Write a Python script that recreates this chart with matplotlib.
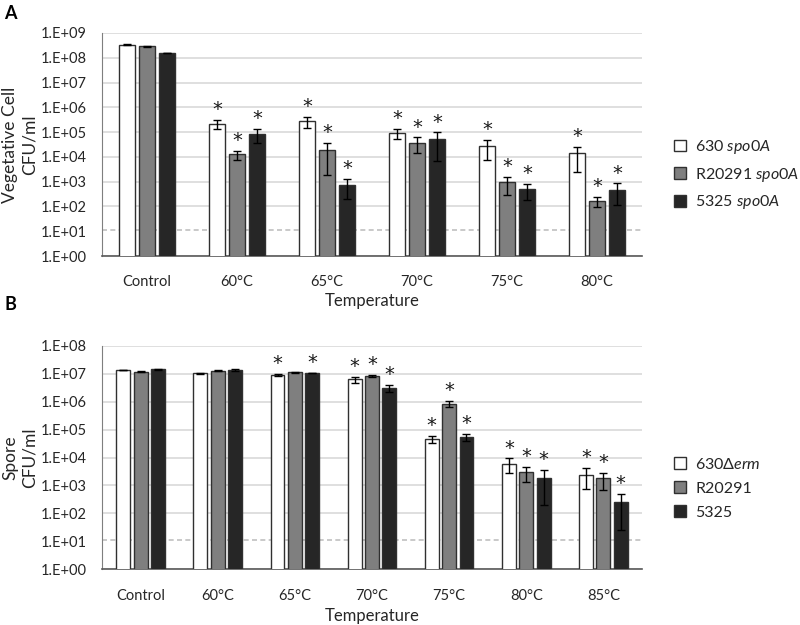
import matplotlib
matplotlib.use("Agg")
import matplotlib.pyplot as plt
import numpy as np

plt.rcParams['font.family'] = ['Lato', 'DejaVu Sans']
plt.rcParams['mathtext.fontset'] = 'custom'
plt.rcParams['mathtext.rm'] = 'Lato'
plt.rcParams['mathtext.it'] = 'Lato:italic'

# panel A - vegetative cells
temps_a = ["Control", "60°C", "65°C", "70°C", "75°C", "80°C"]
labels_a = ["630 $\\mathit{spo0A}$", "R20291 $\\mathit{spo0A}$", "5325 $\\mathit{spo0A}$"]
veg_630 = [3.4e8, 2.2e5, 2.7e5, 9.4e4, 2.75e4, 1.4e4]
veg_630_sd = [2.5e7, 8.5e4, 1.3e5, 4.3e4, 2.0e4, 1.15e4]
veg_r20291 = [2.95e8, 1.26e4, 1.83e4, 3.8e4, 950, 165]
veg_r20291_sd = [1.5e7, 5e3, 1.78e4, 2.3e4, 650, 70]
veg_5325 = [1.55e8, 8.5e4, 740, 5.2e4, 490, 480]
veg_5325_sd = [5e6, 5e4, 540, 4.5e4, 300, 370]
veg_sig = [[False, True, True, True, True, True]] * 3

# panel B - spores
temps_b = ["Control", "60°C", "65°C", "70°C", "75°C", "80°C", "85°C"]
labels_b = ["630Δ$\\mathit{erm}$", "R20291", "5325"]
spo_630 = [1.32e7, 1.03e7, 9.1e6, 6.2e6, 4.6e4, 6.1e3, 2.46e3]
spo_630_sd = [2e5, 5e5, 6e5, 1.7e6, 1.2e4, 3.2e3, 1.7e3]
spo_r20291 = [1.18e7, 1.29e7, 1.1e7, 8.3e6, 8.4e5, 3.0e3, 1.78e3]
spo_r20291_sd = [6e5, 4e5, 3e5, 8e5, 2e5, 1.7e3, 1.1e3]
spo_5325 = [1.44e7, 1.35e7, 1.07e7, 3.0e6, 5.3e4, 1.9e3, 250]
spo_5325_sd = [6e5, 8e5, 2e5, 8.5e5, 1.5e4, 1.7e3, 240]
spo_sig = [[False, False, True, True, True, True, True],
           [False, False, False, True, True, True, True],
           [False, False, True, True, True, True, True]]

detect_limit = 11
colors = ["white", "#7f7f7f", "#262626"]


def draw_panel(ax, cats, series, errs, sig, labels, top, width, step, ylabel, ylab_x, xlab_y):
    x = np.arange(len(cats))
    handles = []
    for i in range(3):
        pos = x + (i - 1) * step
        vals = np.array(series[i])
        sd = np.array(errs[i])
        low = np.minimum(sd, vals * 0.9)
        b = ax.bar(pos, vals, width, color=colors[i], edgecolor="#303030", linewidth=1.0,
                   label=labels[i], zorder=3)
        ax.errorbar(pos, vals, yerr=[low, sd], fmt="none", ecolor="black", elinewidth=1.0,
                    capsize=3.2, capthick=1.0, zorder=4)
        for xp, v, s, flag in zip(pos, vals, sd, sig[i]):
            if flag:
                ax.annotate("*", (xp, v + s), xytext=(0, 3.5), textcoords="offset points",
                            ha="center", va="baseline", fontsize=14, family="DejaVu Sans",
                            color="#1a1a1a")
        handles.append(b)
    ax.set_yscale("log")
    ax.set_ylim(1, top)
    ax.set_xlim(-0.5, len(cats) - 0.5)
    ticks = 10.0 ** np.arange(0, int(np.log10(top)) + 1)
    ax.set_yticks(ticks)
    ax.set_yticklabels(["1.E+%02d" % int(np.log10(t)) for t in ticks])
    ax.minorticks_off()
    ax.set_xticks(x)
    ax.set_xticklabels(cats)
    ax.tick_params(axis="both", length=0, labelsize=10.5, colors="#262626")
    ax.tick_params(axis="x", pad=14)
    ax.tick_params(axis="y", pad=11)
    ax.yaxis.grid(True, color="#d9d9d9", linewidth=1.2, zorder=0)
    ax.set_axisbelow(True)
    ax.get_ygridlines()[1].set_visible(False)
    ax.axhline(detect_limit, color="#c0c0c0", linewidth=1.2, dashes=(3, 2), zorder=1)
    for s in ["top", "right"]:
        ax.spines[s].set_visible(False)
    ax.spines["left"].set_color("#7f7f7f")
    ax.spines["bottom"].set_color("#595959")
    ax.spines["bottom"].set_linewidth(1.2)
    ax.set_ylabel(ylabel, fontsize=12.5, color="#262626", linespacing=1.25)
    ax.yaxis.set_label_coords(ylab_x, 0.5)
    ax.set_xlabel("Temperature", fontsize=12, color="#262626")
    ax.xaxis.set_label_coords(0.5, xlab_y)
    return handles


fig = plt.figure(figsize=(8, 6.25), dpi=100)
ax_a = fig.add_axes([0.1275, 0.5904, 0.675, 0.3568])
ax_b = fig.add_axes([0.1275, 0.0891, 0.675, 0.3578])

h_a = draw_panel(ax_a, temps_a, [veg_630, veg_r20291, veg_5325],
                 [veg_630_sd, veg_r20291_sd, veg_5325_sd], veg_sig, labels_a,
                 1e9, 0.17, 0.222, "Vegetative Cell\nCFU/ml", -0.12, -0.165)
h_b = draw_panel(ax_b, temps_b, [spo_630, spo_r20291, spo_5325],
                 [spo_630_sd, spo_r20291_sd, spo_5325_sd], spo_sig, labels_b,
                 1e8, 0.18, 0.225, "Spore\nCFU/ml", -0.12, -0.175)

leg_kw = dict(loc="upper left", frameon=False, fontsize=11.5, handlelength=0.75,
              handleheight=0.75, handletextpad=0.6, labelspacing=0.6, borderpad=0,
              borderaxespad=0, labelcolor="#262626")
fig.legend(handles=h_a, bbox_to_anchor=(0.842, 0.779), **leg_kw)
fig.legend(handles=h_b, bbox_to_anchor=(0.842, 0.269), **leg_kw)

fig.text(0.005, 0.978, "A", fontsize=13, fontweight="bold", va="center")
fig.text(0.005, 0.513, "B", fontsize=13, fontweight="bold", va="center")

fig.savefig("out.png", dpi=100)
